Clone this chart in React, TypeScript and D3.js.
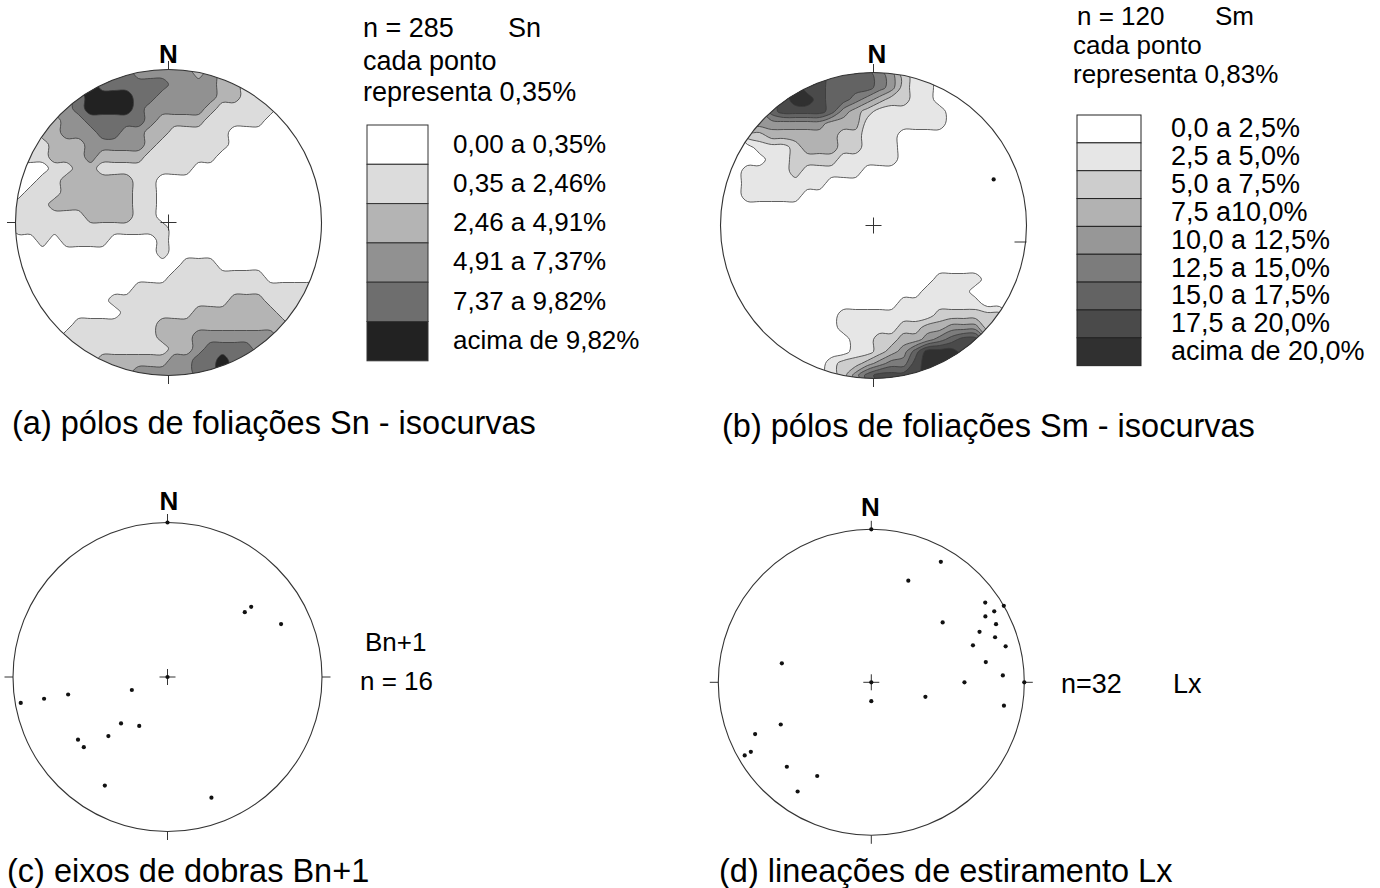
import React from "react";
import * as d3 from "d3";

// ---------------- DATA ----------------
// (a) poles of Sn foliations: density level read per 12 px cell of the net (0 = white ... 5 = darkest); "." = outside the primitive circle
const SN_DENSITY = [
  "..........333332..........",
  ".......444444333322.......",
  "......55554433333221......",
  "....345555433333211111....",
  "...2334444432222111110....",
  "...23334433221111100000...",
  "..1222333332111111000000..",
  ".112223222211111100000000.",
  ".001122111111110000000000.",
  ".011222222110000000000000.",
  "01112222221100000000000000",
  "11122222221100000000000000",
  "11111122221100000000000000",
  "11111111111110000000000000",
  "00101111000010000000000000",
  "00000000000010000000000000",
  ".000000000000011100000000.",
  ".000000000000111111110000.",
  ".000000000111111111111111.",
  "..0000001111111111222111..",
  "...00000011111122222221...",
  "...0011111112222222222....",
  "....111111112223333333....",
  "......11111112234444......",
  ".......222222334454.......",
  "..........333334..........",
];
const SN_THRESHOLDS = [0.5, 1.5, 2.5, 3.5, 4.5];
const SN_COLORS = ["#dcdcdc", "#b4b4b4", "#919191", "#6e6e6e", "#222222"];
const SN_LEGEND = ["0,00 a 0,35%", "0,35 a 2,46%", "2,46 a 4,91%", "4,91 a 7,37%", "7,37 a 9,82%", "acima de 9,82%"];
const SN_HEADER = ["n = 285", "Sn", "cada ponto", "representa 0,35%"];

// (b) poles of Sm foliations (0 = white ... 8 = darkest)
const SM_DENSITY = [
  "..........666542..........",
  ".......776666542110.......",
  ".....788766543221100......",
  "....677776432111111000....",
  "...4444443331111111000....",
  "...23333332211100000000...",
  "..0111233322111000000000..",
  ".000112222111110000000000.",
  ".011112111110000000000000.",
  ".011111110000000000000000.",
  "00111110000000000000000000",
  "00000000000000000000000000",
  "00000000000000000000000000",
  "00000000000000000000000000",
  "00000000000000000000000000",
  "00000000000000000000000000",
  ".000000000000000000000000.",
  ".000000000000000001111000.",
  ".000000000000000011110000.",
  "..0000000000000111111100..",
  "...00000001111111122222...",
  "...0000000111112233444....",
  "....000000011223345677....",
  "......00000112346888......",
  ".......001223455788.......",
  "..........246777..........",
];
const SM_THRESHOLDS = [0.5, 1.5, 2.5, 3.5, 4.5, 5.5, 6.5, 7.5];
const SM_COLORS = ["#e6e6e6", "#cdcdcd", "#b2b2b2", "#979797", "#7c7c7c", "#636363", "#4a4a4a", "#303030"];
const SM_LEGEND = ["0,0 a 2,5%", "2,5 a 5,0%", "5,0 a 7,5%", "7,5 a10,0%", "10,0 a 12,5%", "12,5 a 15,0%", "15,0 a 17,5%", "17,5 a 20,0%", "acima de 20,0%"];
const SM_HEADER = ["n = 120", "Sm", "cada ponto", "representa 0,83%"];
const SM_EXTRA_TREND = [69];
const SM_EXTRA_PLUNGE = [17];

// (c) fold axes Bn+1 (trend, plunge in degrees)
const BN_TREND = [0, 50, 50, 65, 0, 250, 260, 260, 260, 225, 210, 225, 235, 230, 210, 160];
const BN_PLUNGE = [0, 30, 35, 20, 90, 70, 35, 20, 4, 55, 60, 45, 30, 30, 20, 18];
const BN_LABELS = ["Bn+1", "n = 16"];

// (d) stretching lineations Lx (trend, plunge)
const LX_TREND = [0, 30, 20, 55, 60, 60, 60, 65, 50, 65, 70, 70, 75, 80, 87, 90, 90, 0, 180, 105, 100, 282, 245, 246, 240, 240, 225, 210, 214];
const LX_PLUNGE = [0, 10, 30, 10, 0, 8, 15, 11, 39, 23, 15, 30, 10, 25, 15, 39, 0, 90, 80, 60, 13, 40, 35, 18, 10, 5, 23, 30, 15];
const LX_LABELS = ["n=32", "Lx"];

const TITLES = [
  "(a) pólos de foliações Sn - isocurvas",
  "(b) pólos de foliações Sm - isocurvas",
  "(c) eixos de dobras Bn+1",
  "(d) lineações de estiramento Lx",
];

// ---------------- LAYOUT ----------------
const FONT = "'Liberation Sans', Arial, Helvetica, sans-serif";
const INK = "#333";
const NET_A = { cx: 168.5, cy: 222.5, r: 153 };
const NET_B = { cx: 873.5, cy: 225.5, r: 153 };
const NET_C = { cx: 167.5, cy: 677, r: 154.5 };
const NET_D = { cx: 871.3, cy: 682.3, r: 153 };
const CELL = 12;

// fill cells outside the circle with the nearest value inward (radially)
function gridValues(rows: string[]): number[] {
  const n = rows.length;
  const half = n / 2;
  const cells = rows.map((r) => r.split(""));
  const out: number[] = [];
  for (let j = 0; j < n; j++) {
    for (let i = 0; i < n; i++) {
      const c = cells[j][i];
      if (c !== ".") {
        out.push(+c);
        continue;
      }
      const u = i + 0.5 - half;
      const v = j + 0.5 - half;
      let val = 0;
      for (let t = 0.97; t > 0; t -= 0.02) {
        const ii = Math.floor(half + u * t);
        const jj = Math.floor(half + v * t);
        const cc = cells[jj] ? cells[jj][ii] : undefined;
        if (cc !== undefined && cc !== ".") {
          val = +cc;
          break;
        }
      }
      out.push(val);
    }
  }
  return out;
}

function ContourNet({ net, grid, thresholds, colors, id }: any) {
  const n = grid.length;
  const half = (n / 2) * CELL;
  const values = gridValues(grid);
  const sx = d3.scaleLinear().domain([0, n]).range([net.cx - half, net.cx + half]);
  const sy = d3.scaleLinear().domain([0, n]).range([net.cy - half, net.cy + half]);
  const ring = d3
    .line<number[]>()
    .x((p) => sx(p[0]))
    .y((p) => sy(p[1]))
    .curve(d3.curveCatmullRomClosed.alpha(0.5));
  const contours = d3.contours().size([n, n]).thresholds(thresholds)(values);
  const toPath = (mp: any) =>
    mp.coordinates
      .map((poly: number[][][]) => poly.map((rg) => ring(rg.slice(0, -1)) || "").join(""))
      .join("");
  return (
    <g>
      <defs>
        <clipPath id={id}>
          <circle cx={net.cx} cy={net.cy} r={net.r} />
        </clipPath>
      </defs>
      <circle cx={net.cx} cy={net.cy} r={net.r} fill="#fff" />
      <g clipPath={`url(#${id})`}>
        {contours.map((c: any, k: number) => (
          <path key={k} d={toPath(c)} fill={colors[k]} stroke="#3a3a3a" strokeWidth={0.8} strokeLinejoin="round" />
        ))}
      </g>
      <circle cx={net.cx} cy={net.cy} r={net.r} fill="none" stroke={INK} strokeWidth={1.1} />
    </g>
  );
}

function project(net: any, trend: number, plunge: number) {
  const rho = Math.SQRT2 * Math.sin(((90 - plunge) / 2) * (Math.PI / 180));
  const t = (trend * Math.PI) / 180;
  const sx = d3.scaleLinear().domain([-1, 1]).range([net.cx - net.r, net.cx + net.r]);
  const sy = d3.scaleLinear().domain([-1, 1]).range([net.cy - net.r, net.cy + net.r]);
  return [sx(rho * Math.sin(t)), sy(-rho * Math.cos(t))];
}

function Points({ net, trends, plunges }: any) {
  return (
    <g>
      {trends.map((tr: number, k: number) => {
        const [x, y] = project(net, tr, plunges[k]);
        return <circle key={k} cx={x} cy={y} r={2.1} fill="#111" />;
      })}
    </g>
  );
}

function Frame({ net, sides, cross = true, len = 8.5 }: any) {
  const { cx, cy, r } = net;
  const segs: any[] = [];
  if (sides.includes("N")) segs.push([cx, cy - r - len, cx, cy - r]);
  if (sides.includes("S")) segs.push([cx, cy + r, cx, cy + r + len]);
  if (sides.includes("W")) segs.push([cx - r - len, cy, cx - r, cy]);
  if (sides.includes("E")) segs.push([cx + r, cy, cx + r + len, cy]);
  if (cross) {
    segs.push([cx - 8, cy, cx + 8, cy]);
    segs.push([cx, cy - 8, cx, cy + 8]);
  }
  return (
    <g stroke={INK} strokeWidth={1}>
      {segs.map((s, k) => (
        <line key={k} x1={s[0]} y1={s[1]} x2={s[2]} y2={s[3]} />
      ))}
    </g>
  );
}

function NLabel({ x, y }: any) {
  return (
    <text x={x} y={y} textAnchor="middle" fontSize={26} fontWeight="bold" fill="#000">
      N
    </text>
  );
}

export default function App() {
  const legA = { x: 367, y: 125, w: 61, h: 39.3 };
  const legB = { x: 1077, y: 115, w: 64, h: 27.85 };
  return (
    <svg
      width={1380}
      height={888}
      viewBox="0 0 1380 888"
      style={{ position: "absolute", left: 0, top: 0, background: "#fff" }}
      fontFamily={FONT}
    >
      <rect width={1380} height={888} fill="#fff" />

      {/* (a) */}
      <ContourNet net={NET_A} grid={SN_DENSITY} thresholds={SN_THRESHOLDS} colors={SN_COLORS} id="clipA" />
      <Frame net={NET_A} sides={["N", "W", "S"]} />
      <NLabel x={168.5} y={63} />
      <g fontSize={27} fill="#000">
        <text x={363} y={37}>{SN_HEADER[0]}</text>
        <text x={508} y={37}>{SN_HEADER[1]}</text>
        <text x={363} y={70}>{SN_HEADER[2]}</text>
        <text x={363} y={101}>{SN_HEADER[3]}</text>
      </g>
      <g>
        {["#ffffff", ...SN_COLORS].map((c, k) => (
          <rect key={k} x={legA.x} y={legA.y + k * legA.h} width={legA.w} height={legA.h} fill={c} stroke={INK} strokeWidth={1} />
        ))}
        {SN_LEGEND.map((t, k) => (
          <text key={k} x={453} y={legA.y + k * legA.h + 27.5} fontSize={26} fill="#000">
            {t}
          </text>
        ))}
      </g>
      <text x={12} y={434} fontSize={32.5} fill="#000">{TITLES[0]}</text>

      {/* (b) */}
      <ContourNet net={NET_B} grid={SM_DENSITY} thresholds={SM_THRESHOLDS} colors={SM_COLORS} id="clipB" />
      <Frame net={NET_B} sides={["N", "S"]} />
      <line x1={NET_B.cx + NET_B.r - 12} y1={NET_B.cy + 16.5} x2={NET_B.cx + NET_B.r} y2={NET_B.cy + 16.5} stroke={INK} strokeWidth={1} />
      <Points net={NET_B} trends={SM_EXTRA_TREND} plunges={SM_EXTRA_PLUNGE} />
      <NLabel x={877} y={63} />
      <g fontSize={26} fill="#000">
        <text x={1077} y={24.5}>{SM_HEADER[0]}</text>
        <text x={1215} y={24.5}>{SM_HEADER[1]}</text>
        <text x={1073} y={53.5}>{SM_HEADER[2]}</text>
        <text x={1073} y={83}>{SM_HEADER[3]}</text>
      </g>
      <g>
        {["#ffffff", ...SM_COLORS].map((c, k) => (
          <rect key={k} x={legB.x} y={legB.y + k * legB.h} width={legB.w} height={legB.h} fill={c} stroke="#222" strokeWidth={1} />
        ))}
        {SM_LEGEND.map((t, k) => (
          <text key={k} x={1171} y={legB.y + k * legB.h + 22.3} fontSize={27} fill="#000">
            {t}
          </text>
        ))}
      </g>
      <text x={722} y={437} fontSize={32.5} fill="#000">{TITLES[1]}</text>

      {/* (c) */}
      <circle cx={NET_C.cx} cy={NET_C.cy} r={NET_C.r} fill="none" stroke={INK} strokeWidth={1.1} />
      <Frame net={NET_C} sides={["N", "W", "E", "S"]} />
      <Points net={NET_C} trends={BN_TREND} plunges={BN_PLUNGE} />
      <NLabel x={169} y={510} />
      <text x={365} y={651} fontSize={26} fill="#000">{BN_LABELS[0]}</text>
      <text x={360} y={690} fontSize={26} fill="#000">{BN_LABELS[1]}</text>
      <text x={7} y={882} fontSize={32.5} fill="#000">{TITLES[2]}</text>

      {/* (d) */}
      <circle cx={NET_D.cx} cy={NET_D.cy} r={NET_D.r} fill="none" stroke={INK} strokeWidth={1.1} />
      <Frame net={NET_D} sides={["N", "W", "E", "S"]} />
      <Points net={NET_D} trends={LX_TREND} plunges={LX_PLUNGE} />
      <NLabel x={870.5} y={516} />
      <text x={1061} y={693} fontSize={27} fill="#000">{LX_LABELS[0]}</text>
      <text x={1173} y={693} fontSize={27} fill="#000">{LX_LABELS[1]}</text>
      <text x={719} y={882} fontSize={32.5} fill="#000">{TITLES[3]}</text>
    </svg>
  );
}
